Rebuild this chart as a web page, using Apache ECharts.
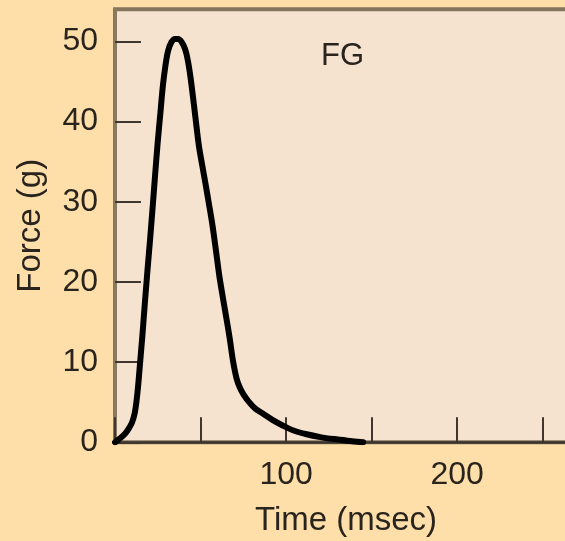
<!DOCTYPE html>
<html><head><meta charset="utf-8">
<script src="https://cdn.jsdelivr.net/npm/echarts@6/dist/echarts.min.js"></script>
<style>html,body{margin:0;padding:0;background:#FEDEA9;}#c{width:565px;height:541px;}</style>
</head><body><div id="c"></div>
<script>
const timeMs = [0,3,6,8,10,11.5,12.5,13.5,14.5,16,17.5,19,20.5,22,23.5,25,26.5,28,29.5,31,33,35,37,39,41,42.5,44,45.5,47,49,51,53,55,57,59,61,63,65,67,69,71,73,75,78,82,87,92,98,104,112,120,128,136,145];
const forceG = [0,0.5,1.1,1.7,2.5,3.6,5,7,9.5,13.3,17.5,21.5,25.3,29.3,33.5,37.5,41,44.5,47,48.8,49.9,50.3,50.3,49.9,49,47.7,45.7,43.2,40.5,37,34.5,32.1,29.6,27,23.9,20.7,18.1,15.6,13,10.1,8,6.8,6,5.1,4.2,3.5,2.8,2.1,1.5,1,0.65,0.4,0.2,0];
const xTickLabels = [100, 200];
const yTickLabels = [0, 10, 20, 30, 40, 50];
const panelLabel = 'FG';

const chart = echarts.init(document.getElementById('c'), null, {renderer:'canvas'});
const font = 'Liberation Sans, Arial, sans-serif';
chart.setOption({
  backgroundColor: '#FEDEA9',
  animation: false,
  grid: {left:115, top:9.2, width:462, height:433.1, containLabel:false, outerBoundsMode:'none',
    show:true, backgroundColor:'#F5E3CF', borderColor:'#85755d', borderWidth:4},
  xAxis: {
    type:'value', min:0, max:270, interval:50,
    name:'Time (msec)', nameLocation:'middle', nameGap:62,
    nameTextStyle:{fontFamily:font, fontSize:33, color:'#2a241e'},
    axisLine:{show:true, lineStyle:{color:'#3a332b', width:2.5}},
    axisTick:{show:true, inside:true, length:25, lineStyle:{color:'#3f372e', width:2}},
    axisLabel:{fontFamily:font, fontSize:32, color:'#2a241e', margin:17,
      formatter: v => xTickLabels.includes(v) ? String(v) : ''},
    splitLine:{show:false}
  },
  yAxis: {
    type:'value', min:0, max:54, interval:10,
    name:'Force (g)', nameLocation:'middle', nameGap:68, nameRotate:90,
    nameTextStyle:{fontFamily:font, fontSize:33, color:'#2a241e'},
    axisLine:{show:true, lineStyle:{color:'#8a7a62', width:3}},
    axisTick:{show:true, inside:true, length:26, lineStyle:{color:'#3f372e', width:2}},
    axisLabel:{fontFamily:font, fontSize:32, color:'#2a241e', margin:17, showMaxLabel:false,
      formatter: v => yTickLabels.includes(v) ? String(v) : ''},
    splitLine:{show:false}
  },
  graphic: [{type:'text', left:321, top:41, style:{text:panelLabel, font:'31px Liberation Sans, Arial, sans-serif', fill:'#2a241e'}}],
  series: [{
    type:'line', data: timeMs.map((t,i)=>[t, forceG[i]]),
    smooth:0.3, showSymbol:false, clip:true,
    lineStyle:{color:'#000', width:6, join:'round', cap:'round'}
  }]
});
</script></body></html>
